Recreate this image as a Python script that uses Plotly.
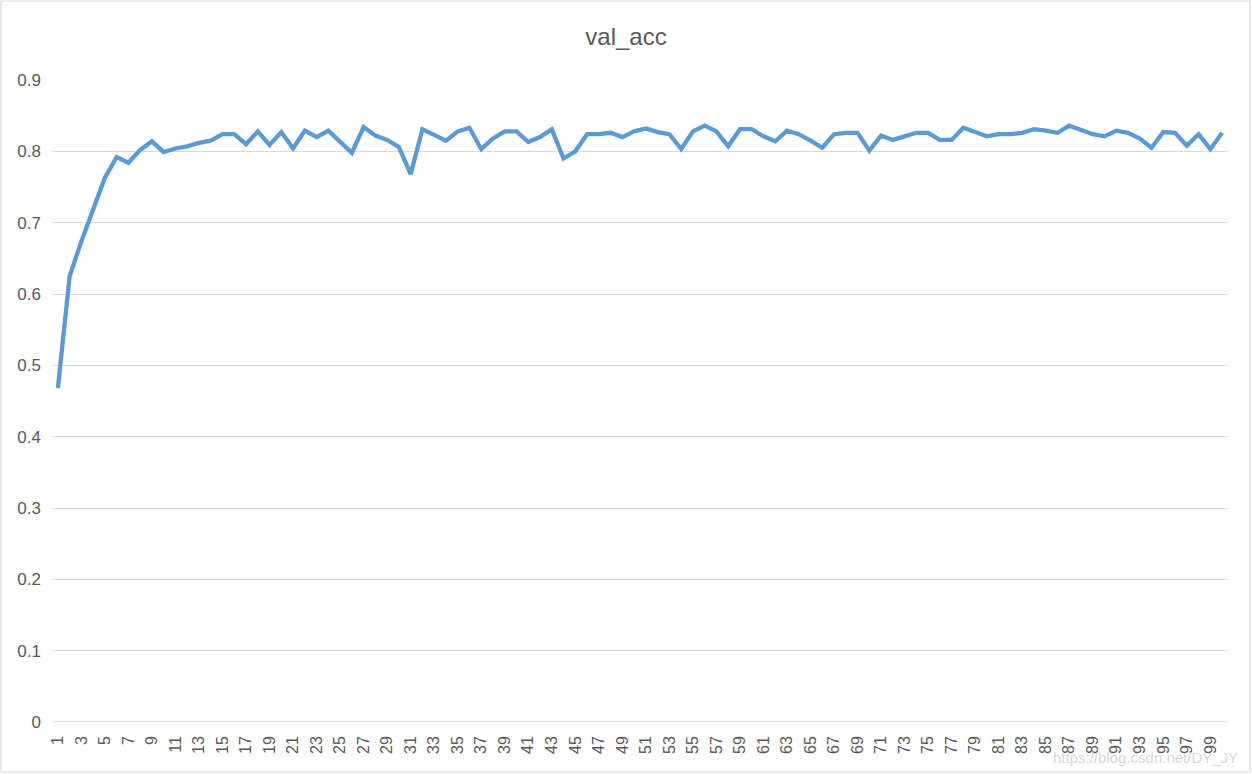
import plotly.graph_objects as go

epochs = [str(i) for i in range(1, 101)]
val_acc = [
    0.468, 0.625, 0.674, 0.718, 0.763, 0.792, 0.784, 0.802, 0.814, 0.799,
    0.804, 0.807, 0.812, 0.815, 0.824, 0.824, 0.810, 0.828, 0.809, 0.827,
    0.804, 0.829, 0.820, 0.829, 0.814, 0.798, 0.834, 0.822, 0.816, 0.806,
    0.768, 0.831, 0.823, 0.815, 0.828, 0.833, 0.803, 0.818, 0.828, 0.828,
    0.813, 0.820, 0.831, 0.790, 0.800, 0.824, 0.824, 0.826, 0.820, 0.828,
    0.832, 0.827, 0.824, 0.803, 0.828, 0.836, 0.828, 0.807, 0.831, 0.831,
    0.821, 0.814, 0.829, 0.824, 0.815, 0.805, 0.824, 0.826, 0.826, 0.801,
    0.822, 0.816, 0.821, 0.826, 0.826, 0.816, 0.816, 0.833, 0.827, 0.821,
    0.824, 0.824, 0.826, 0.831, 0.829, 0.826, 0.836, 0.830, 0.824, 0.821,
    0.829, 0.826, 0.818, 0.805, 0.827, 0.826, 0.808, 0.824, 0.803, 0.826,
]
tick_labels = epochs[::2]
y_ticks = [0, 0.1, 0.2, 0.3, 0.4, 0.5, 0.6, 0.7, 0.8, 0.9]
y_tick_text = ["0", "0.1", "0.2", "0.3", "0.4", "0.5", "0.6", "0.7", "0.8", "0.9"]

fig = go.Figure()
fig.add_trace(go.Scatter(
    x=epochs, y=val_acc, mode="lines",
    line=dict(color="#5b9bd5", width=4.3, shape="linear"),
    hoverinfo="x+y", showlegend=False,
))

W, H = 1252, 774
L, R, T, B = 52, 24, 80, 52
pw, ph = W - L - R, H - T - B

def px(xp):
    return (xp - L) / pw

def py(yp):
    return (H - B - yp) / ph

font_family = "Liberation Sans, Arial, sans-serif"
fig.update_layout(
    width=W, height=H,
    margin=dict(l=L, r=R, t=T, b=B),
    paper_bgcolor="white", plot_bgcolor="white",
    title=dict(text="val_acc", x=0.5, xanchor="center", y=1 - 37 / H, yanchor="middle",
               font=dict(family=font_family, size=24, color="#595959")),
    xaxis=dict(type="category", tickmode="array", tickvals=tick_labels, ticktext=tick_labels,
               tickangle=-90, showgrid=False, showline=False, zeroline=False, ticks="",
               ticklabelstandoff=10,
               tickfont=dict(family=font_family, size=16, color="#595959"),
               range=[-0.5, 99.5]),
    yaxis=dict(range=[0, 0.9], tickmode="array", tickvals=y_ticks, ticktext=y_tick_text,
               showgrid=True, gridcolor="#d9d9d9", gridwidth=1.3, zeroline=False,
               showline=False, ticks="", ticklabelstandoff=10,
               tickfont=dict(family=font_family, size=17, color="#595959")),
    shapes=[
        dict(type="line", xref="paper", yref="y", x0=0, x1=1, y0=0, y1=0,
             line=dict(color="#d9d9d9", width=1.5), layer="below"),
        dict(type="rect", xref="paper", yref="paper",
             x0=px(1), x1=px(W - 2), y0=py(1), y1=py(H - 2),
             line=dict(color="#d9d9d9", width=1.2), fillcolor="rgba(0,0,0,0)"),
    ],
    annotations=[
        dict(text="https://blog.csdn.net/DY_JY", xref="paper", yref="paper",
             x=px(1240), y=py(757), xanchor="right", yanchor="middle", showarrow=False,
             font=dict(family=font_family, size=15, color="rgba(205,205,205,0.8)")),
    ],
)

fig.write_html("out.html", config={"displayModeBar": False},
               post_script="document.body.style.margin='0';document.body.style.overflow='hidden';")
